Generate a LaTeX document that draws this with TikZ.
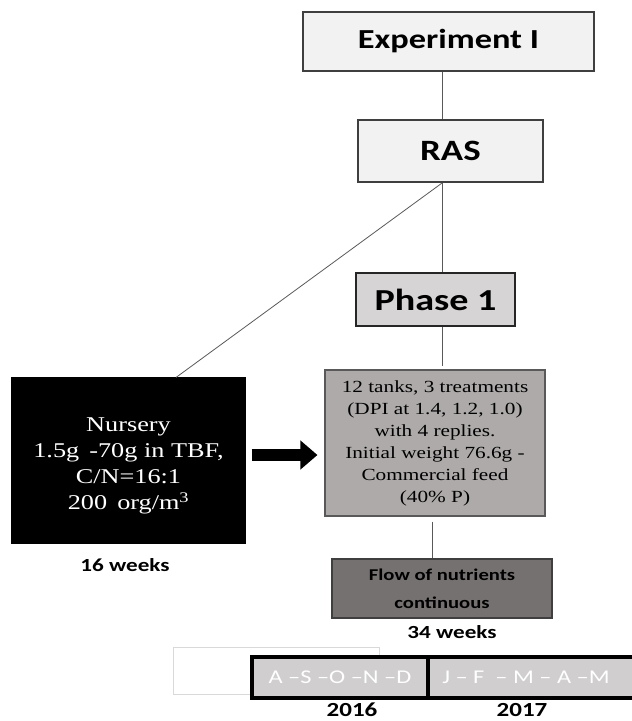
\documentclass[tikz,border=0pt]{standalone}
\usepackage{fontspec}
\setmainfont{Liberation Serif}[FakeStretch=1.25]
\newfontfamily\calib{Carlito}[FakeStretch=1.25]
\usetikzlibrary{arrows.meta}
\definecolor{paleBox}{HTML}{F2F2F2}
\definecolor{phaseFill}{HTML}{D6D4D4}
\definecolor{tankFill}{HTML}{AEAAAA}
\definecolor{flowFill}{HTML}{767171}
\definecolor{yearFill}{HTML}{D0CECE}
\definecolor{edgeGray}{HTML}{3F3F3F}
\definecolor{wireGray}{HTML}{595959}
\definecolor{ghostLine}{HTML}{D9D9D9}
\tikzset{
  box/.style={draw=edgeGray, line width=1.1pt, inner sep=0pt, align=center},
  wire/.style={draw=wireGray, line width=0.8pt},
  headtxt/.style={font=\calib\bfseries\fontsize{#1}{#1}\selectfont},
  weeks/.style={inner sep=0pt, font=\calib\bfseries\fontsize{18.5}{20}\selectfont},
  yearbox/.style={draw=black, line width=4pt, fill=yearFill, inner sep=0pt},
  months/.style={inner sep=0pt, text=white, font=\calib\fontsize{19.5}{20}\selectfont},
  yeartxt/.style={inner sep=0pt, font=\calib\bfseries\fontsize{20}{20}\selectfont}
}
\begin{document}
\begin{tikzpicture}[x=1pt, y=-1pt]
\useasboundingbox (0,0) rectangle (632,721);

% spine of the vertical connectors
\coordinate (spine) at (442,0);
\coordinate (spineLow) at (432,0);

% boxes of the main column
\node[box, fill=paleBox, minimum width=291pt, minimum height=59pt,
      headtxt=27.5] (exp) at (448.5,41.5) {Experiment I};
\node[box, fill=paleBox, minimum width=185pt, minimum height=62pt,
      headtxt=29.5] (ras) at (450.5,151) {RAS};
\node[box, fill=phaseFill, draw=black!85, line width=1.4pt,
      minimum width=159pt, minimum height=53pt,
      headtxt=30.5] (phase) at (435.5,299.5) {Phase 1};
\node[box, fill=tankFill, draw=wireGray, minimum width=220pt, minimum height=146pt,
      font=\fontsize{17}{22}\selectfont] (tanks) at (435,443)
  {12 tanks, 3 treatments\\(DPI at 1.4, 1.2, 1.0)\\with 4 replies.\\Initial weight 76.6g -\\Commercial feed\\(40\% P)};
\node[box, fill=flowFill, minimum width=220pt, minimum height=59pt,
      font=\calib\bfseries\fontsize{16.5}{28}\selectfont] (flow) at (442,588.5)
  {Flow of nutrients\\continuous};

% nursery block and its text
\node[box, fill=black, draw=black, minimum width=233pt, minimum height=165pt] (nursery) at (128.5,460.5) {};
\node[inner sep=0pt, align=center, text=white, font=\fontsize{21}{26}\selectfont] (nurserytxt) at (128.5,466)
  {Nursery\\1.5g \,-70g in TBF,\\C/N=16:1\\200 \,org/m\textsuperscript{3}};

% connectors
\draw[wire] (exp.south -| spine) -- (ras.north -| spine);
\draw[wire] (ras.south -| spine) -- (phase.north -| spine);
\draw[wire] (phase.south -| spine) -- ([yshift=3pt]tanks.north -| spine);
\draw[wire] ([yshift=-0.5pt]ras.south -| spine) -- ([xshift=47.5pt]nursery.north);
\draw[wire] ([yshift=-5pt]tanks.south -| spineLow) -- (flow.north -| spineLow);
\draw[line width=12pt, -{Triangle[length=17pt, width=28pt]}]
  ([xshift=6pt, yshift=5.5pt]nursery.east) -- ([xshift=-7pt, yshift=5.5pt]nursery.east -| tanks.west);

% durations
\node[weeks] (w16) at (125,565) {16 weeks};
\node[weeks] (w34) at (452,632) {34 weeks};

% timeline
\draw[ghostLine, line width=0.8pt, fill=white] (173,647) rectangle (379,694);
\node[yearbox, minimum width=176pt, minimum height=41pt] (y16) at (340,677.5) {};
\node[yearbox, minimum width=212pt, minimum height=41pt] (y17) at (534,677.5) {};
\node[months] (m16) at (y16) {A –S –O –N –D};
\node[months] (m17) at (526,677.5) {J – F \ – M – A –M};
\node[yeartxt] (yr16) at (352,710) {2016};
\node[yeartxt] (yr17) at (522,710) {2017};
\end{tikzpicture}
\end{document}
